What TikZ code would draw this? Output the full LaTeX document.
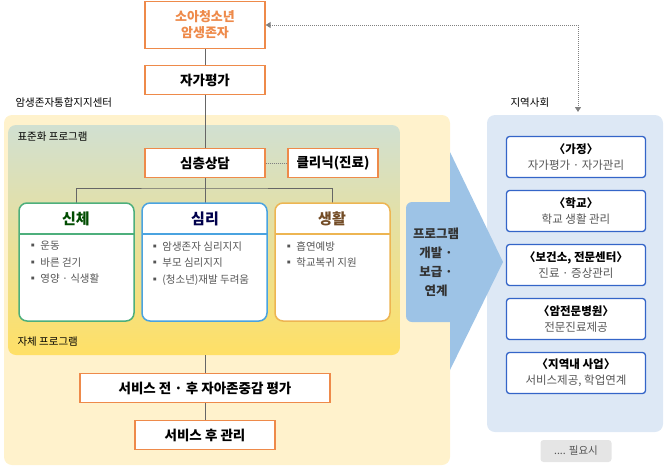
\documentclass[tikz,border=0pt]{standalone}
\usepackage{fontspec}
\setmainfont{Noto Sans CJK KR}
\usetikzlibrary{positioning,arrows.meta}
\definecolor{orgline}{HTML}{EE8A4A}
\definecolor{grline}{HTML}{4DAF7C}
\definecolor{blline}{HTML}{4AA3E0}
\definecolor{yeline}{HTML}{EDB552}
\definecolor{regbl}{HTML}{3465C8}
\definecolor{outbg}{HTML}{FFF2CC}
\definecolor{rightbg}{HTML}{DDE8F5}
\definecolor{arrbl}{HTML}{9DC3E6}
\definecolor{txtg}{HTML}{555555}
\tikzset{
  obox/.style={draw=orgline,line width=1.3pt,fill=white,minimum width=120pt,minimum height=29pt,font=\bfseries\fontsize{13.5}{16}\selectfont},
  catbox/.style={draw=#1,line width=1.5pt,fill=white,rounded corners=8pt},
  regbox/.style={draw=regbl,line width=1.3pt,fill=white,rounded corners=3pt,minimum width=139pt,minimum height=41pt,align=center,font=\fontsize{11.5}{16}\selectfont},
  lbl/.style={font=\fontsize{10.5}{12}\selectfont,anchor=west},
  item/.style={font=\fontsize{10.5}{16.5}\selectfont,text=txtg,anchor=north west,align=left},
  conn/.style={draw=gray!80!black,line width=1pt}
}
\begin{document}
\begin{tikzpicture}[x=1pt,y=-1pt]
\useasboundingbox (0,0) rectangle (665,467);
% backgrounds
\fill[outbg,rounded corners=8pt] (4,115) rectangle (450,465);
\shade[top color=green!20!gray!30!white,bottom color=yellow!60!orange!60,rounded corners=8pt] (8,125) rectangle (400,355);
\fill[rightbg,rounded corners=8pt] (487,115) rectangle (663,432);
\fill[arrbl,rounded corners=6pt] (406,202) rectangle (458,322);
\fill[arrbl] (450,152) -- (503,262) -- (450,370) -- cycle;
\node[font=\bfseries\fontsize{12.5}{19}\selectfont,align=center,text=black!80] at (436,262) {프로그램\\개발 ·\\보급 ·\\연계};
% labels
\node[lbl] at (12,103) {암생존자통합지지센터};
\node[lbl] at (14,137) {표준화 프로그램};
\node[lbl] at (14,342) {자체 프로그램};
\node[lbl] at (507,103) {지역사회};
% main column
\node[obox,text=orgline,align=center,minimum height=47pt,font=\bfseries\fontsize{13}{16}\selectfont] (survivor) at (205,25) {소아청소년\\암생존자};
\node[obox] (selfeval) at (205,80) {자가평가};
\node[obox] (counsel) at (205,163) {심층상담};
\node[obox,minimum width=90pt] (clinic) at (333,163) {클리닉(진료)};
\node[obox,minimum width=250pt] (esteem) at (205,388) {서비스 전 · 후 자아존중감 평가};
\node[obox,minimum width=140pt] (after) at (205,435) {서비스 후 관리};
\draw[conn] (survivor) -- (selfeval);
\draw[conn] (selfeval) -- (counsel);
\draw[densely dotted,gray,line width=1pt] (counsel) -- (clinic);
\coordinate (split) at (205,188);
\draw[conn] (counsel) -- (split);
\draw[conn] (76,203) |- (split) -| (332,203);
\draw[conn] (205,188) -- (205,203);
\draw[conn] (205,355) -- (esteem);
\draw[conn] (esteem) -- (after);
% category boxes
\draw[catbox=grline] (19,203) rectangle (134,321);
\draw[grline,line width=1.5pt] (19,234) -- (134,234);
\node[font=\bfseries\fontsize{15}{17}\selectfont,text=green!30!black] (body) at (76,219) {신체};
\node[item] at (24,238) {▪ 운동\\▪ 바른 걷기\\▪ 영양 · 식생활};
\draw[catbox=blline] (142,203) rectangle (267,321);
\draw[blline,line width=1.5pt] (142,234) -- (267,234);
\node[font=\bfseries\fontsize{15}{17}\selectfont,text=blue!30!black] (mind) at (205,219) {심리};
\node[item] at (146,238) {▪ 암생존자 심리지지\\▪ 부모 심리지지\\▪ (청소년)재발 두려움};
\draw[catbox=yeline] (275,203) rectangle (390,321);
\draw[yeline,line width=1.5pt] (275,234) -- (390,234);
\node[font=\bfseries\fontsize{15}{17}\selectfont,text=brown!60!black] (life) at (332,219) {생활};
\node[item] at (280,238) {▪ 흡연예방\\▪ 학교복귀 지원};
% region boxes
\node[regbox] (home) at (576,157) {\textbf{〈가정〉}\\\textcolor{txtg}{자가평가 · 자가관리}};
\node[regbox] (school) at (576,211) {\textbf{〈학교〉}\\\textcolor{txtg}{학교 생활 관리}};
\node[regbox] (health) at (576,265) {\textbf{〈보건소, 전문센터〉}\\\textcolor{txtg}{진료 · 증상관리}};
\node[regbox] (hosp) at (576,319) {\textbf{〈암전문병원〉}\\\textcolor{txtg}{전문진료제공}};
\node[regbox] (local) at (576,373) {\textbf{〈지역내 사업〉}\\\textcolor{txtg}{서비스제공, 학업연계}};
\node[fill=gray!20,rounded corners=3pt,minimum width=71pt,minimum height=22pt,font=\fontsize{10.5}{12}\selectfont,text=txtg] (need) at (576,451) {.... 필요시};
\coordinate (commtop) at (578,112);
\draw[densely dotted,gray,line width=1pt,{Triangle[width=6pt,length=5pt]}-{Triangle[width=6pt,length=5pt]}] (survivor.east) -| (commtop);
\end{tikzpicture}
\end{document}
